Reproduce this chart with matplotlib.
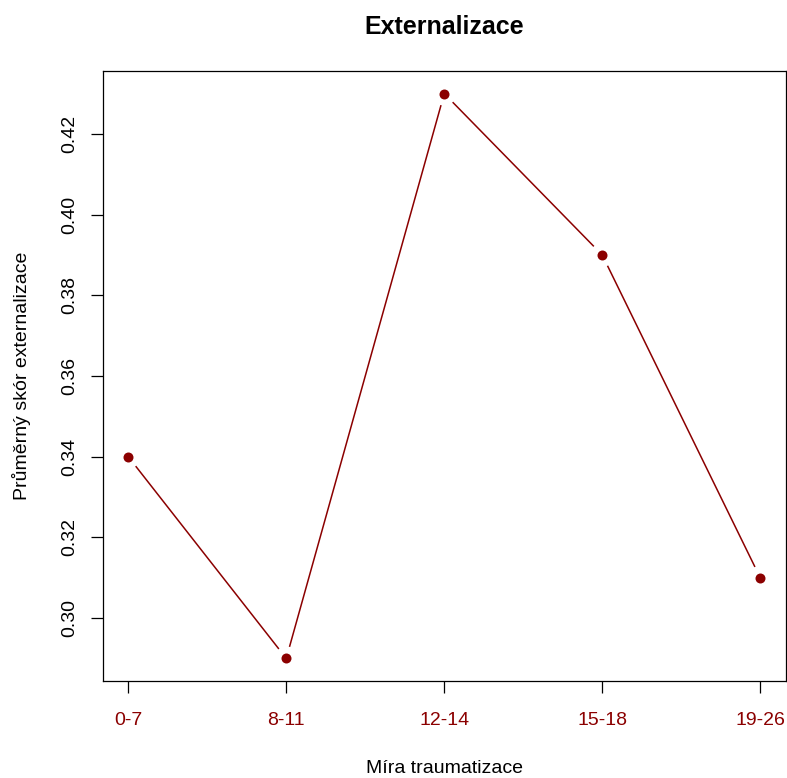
import numpy as np
import matplotlib
matplotlib.use("Agg")
import matplotlib.pyplot as plt

plt.rcParams['font.family'] = ['Liberation Sans', 'DejaVu Sans']

groups = ['0-7', '8-11', '12-14', '15-18', '19-26']
scores = [0.34, 0.29, 0.43, 0.39, 0.31]
yticks = [0.30, 0.32, 0.34, 0.36, 0.38, 0.40, 0.42]

col = '#8B0000'
fig = plt.figure(figsize=(7.87, 7.78), dpi=100)
ax = fig.add_axes([103 / 787, 1 - 681 / 778, 682.5 / 787, 610 / 778])

x = np.arange(1, len(groups) + 1)
y = np.array(scores)

# R-style axis padding (4% each side)
xr = x.max() - x.min()
yr = y.max() - y.min()
ax.set_xlim(x.min() - 0.04 * xr, x.max() + 0.04 * xr)
ax.set_ylim(y.min() - 0.04 * yr, y.max() + 0.04 * yr)

# points with gapped connecting segments (type = "b")
gap = 12  # pixels
pts = ax.transData.transform(np.column_stack([x, y]))
inv = ax.transData.inverted()
for p0, p1 in zip(pts[:-1], pts[1:]):
    d = p1 - p0
    u = d / np.hypot(*d)
    a = inv.transform(p0 + u * gap)
    b = inv.transform(p1 - u * gap)
    ax.plot([a[0], b[0]], [a[1], b[1]], color=col, lw=1.1, solid_capstyle='butt')
ax.plot(x, y, 'o', color=col, markersize=7.2, markeredgewidth=0)

ax.set_xticks(x)
ax.set_xticklabels(groups, color=col)
ax.set_yticks(yticks)
ax.set_yticklabels([f'{v:.2f}' for v in yticks], rotation=90, va='center')
ax.tick_params(axis='both', length=8.6, width=0.9, labelsize=14, direction='out')
ax.tick_params(axis='x', pad=14)
ax.tick_params(axis='y', pad=9)
for s in ax.spines.values():
    s.set_linewidth(0.9)

ax.set_title('Externalizace', fontsize=18, fontweight='bold', pad=27)
ax.set_xlabel('Míra traumatizace', fontsize=14, labelpad=22)
ax.set_ylabel('Průměrný skór externalizace', fontsize=14, labelpad=22)

fig.savefig('out.png', dpi=100)
